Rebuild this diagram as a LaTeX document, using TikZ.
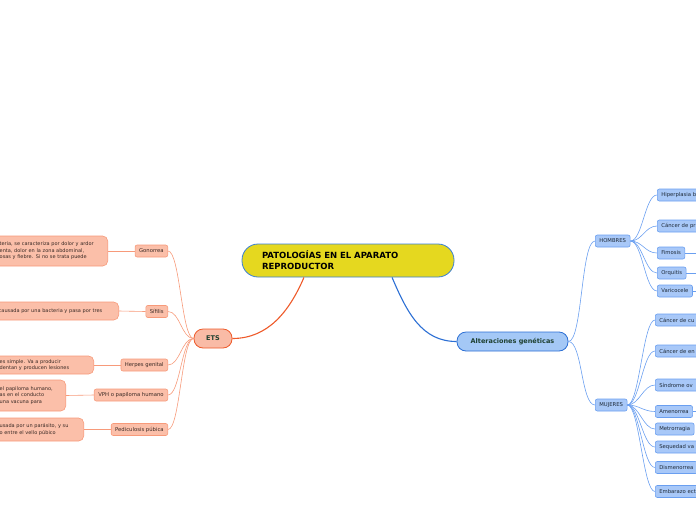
\documentclass[tikz,border=0pt]{standalone}
\usepackage{fontspec}
\setmainfont{DejaVu Sans}

\definecolor{rootfill}{HTML}{E5D81F}
\definecolor{rootline}{HTML}{3A7FD5}
\definecolor{etsfill}{HTML}{F9BBA6}
\definecolor{etsline}{HTML}{EE5A2A}
\definecolor{salfill}{HTML}{FBBFA9}
\definecolor{salline}{HTML}{F79A7A}
\definecolor{genfill}{HTML}{A4C8F6}
\definecolor{genline}{HTML}{2C6FD4}
\definecolor{bluefill}{HTML}{A8C8F8}
\definecolor{blueline}{HTML}{6A9FF0}
\definecolor{darkgreen}{HTML}{1E4030}
\definecolor{leaftext}{HTML}{3A2A25}
\definecolor{bluetext}{HTML}{1E2A38}

\tikzset{
  topic/.style={draw=rootline, fill=rootfill, line width=0.8pt, rounded corners=16pt,
    minimum width=212pt, minimum height=33pt, inner xsep=20pt, text width=172pt,
    align=left, font=\fontsize{8.5}{11}\selectfont\bfseries},
  etsmain/.style={draw=etsline, fill=etsfill, line width=0.8pt, rounded corners=9pt,
    minimum width=38pt, minimum height=19pt, text=darkgreen,
    font=\fontsize{6.5}{8}\selectfont\bfseries},
  genmain/.style={draw=genline, fill=genfill, line width=0.8pt, rounded corners=9pt,
    minimum width=111pt, minimum height=19pt, text=darkgreen,
    font=\fontsize{6.5}{8}\selectfont\bfseries},
  etsleaf/.style={draw=salline, fill=salfill, rounded corners=2pt, line width=0.6pt,
    minimum height=12pt, inner xsep=4pt, inner ysep=0pt, anchor=east, text=leaftext,
    font=\fontsize{5.3}{6}\selectfont},
  etsnote/.style={draw=salline, fill=salfill, rounded corners=5pt, line width=0.6pt,
    inner xsep=5pt, inner ysep=0pt, anchor=east, align=left, text=leaftext,
    font=\fontsize{5}{6.5}\selectfont},
  genleaf/.style={draw=blueline, fill=bluefill, rounded corners=2pt, line width=0.6pt,
    minimum height=12pt, inner xsep=4pt, inner ysep=0pt, anchor=west, text=bluetext,
    font=\fontsize{5.3}{6}\selectfont},
  etslink/.style={draw=salline, line width=0.6pt},
  genlink/.style={draw=blueline, line width=0.6pt},
}

\begin{document}
\begin{tikzpicture}[x=1pt,y=-1pt]
\useasboundingbox (0,0) rectangle (696,520);
\clip (0,0) rectangle (696,520);

% main topics
\node[topic] (root) at (348,260.5) {PATOLOGÍAS EN EL APARATO\\REPRODUCTOR};
\node[etsmain] (ets) at (213,338.5) {ETS};
\node[genmain] (gen) at (512.5,341.5) {Alteraciones genéticas};

\draw[etsline, line width=1.1pt] (root.201) .. controls +(-15,35) and +(35,0) .. (ets.east);
\draw[genline, line width=1.1pt] (root.339) .. controls +(15,35) and +(-35,0) .. (gen.west);

% ETS
\node[etsleaf] (gono) at (168,251) {Gonorrea};
\node[etsleaf] (sifi) at (168,311.5) {Sífilis};
\node[etsleaf] (herp) at (168,365) {Herpes genital};
\node[etsleaf] (vph) at (168,395) {VPH o papiloma humano};
\node[etsleaf] (pedi) at (168,429.5) {Pediculosis púbica};

\node[etsnote, text width=103pt, minimum height=30pt] (gononote) at (108,251)
  {teria, se caracteriza por dolor y ardor\\enta, dolor en la zona abdominal,\\osas y fiebre. Si no se trata puede};
\node[etsnote, text width=115pt, minimum height=18pt] (sifinote) at (119,311)
  {causada por una bacteria y pasa por tres};
\node[etsnote, text width=89pt, minimum height=18pt] (herpnote) at (94,365)
  {es simple. Va a producir\\dentan y producen lesiones};
\node[etsnote, text width=61pt, minimum height=31pt] (vphnote) at (66,395.5)
  {el papiloma humano,\\as en el conducto\\una vacuna para};
\node[etsnote, text width=79pt, minimum height=23pt] (pedinote) at (84,429.5)
  {usada por un parásito, y su\\o entre el vello púbico};

\foreach \leaf in {gono,sifi,herp,vph,pedi}
  \draw[etslink] (ets.west) .. controls +(-12,0) and +(12,0) .. (\leaf.east);
\foreach \leaf in {gono,sifi,herp,vph,pedi}
  \draw[etslink] (\leaf.west) -- (\leaf note.east);

% Alteraciones geneticas
\node[genleaf] (homb) at (595,241) {HOMBRES};
\node[genleaf] (muje) at (595,405) {MUJERES};
\draw[genlink] (gen.east) .. controls +(14,0) and +(-14,0) .. (homb.west);
\draw[genlink] (gen.east) .. controls +(14,0) and +(-14,0) .. (muje.west);

\node[genleaf, text width=60pt] (hipe) at (657,195) {Hiperplasia b};
\node[genleaf, text width=60pt] (cpro) at (657,226) {Cáncer de pr};
\node[genleaf] (fimo) at (657,253) {Fimosis};
\node[genleaf] (orqu) at (657,273) {Orquitis};
\node[genleaf] (vari) at (657,291) {Varicocele};

\node[genleaf, text width=60pt] (ccue) at (655,320) {Cáncer de cu};
\node[genleaf, text width=60pt] (cend) at (655,351) {Cáncer de en};
\node[genleaf, text width=60pt] (sind) at (655,385) {Síndrome ov};
\node[genleaf] (amen) at (655,411.5) {Amenorrea};
\node[genleaf] (metr) at (655,429) {Metrorragia};
\node[genleaf, text width=60pt] (sequ) at (655,447) {Sequedad va};
\node[genleaf] (dism) at (655,467.5) {Dismenorrea};
\node[genleaf, text width=60pt] (emba) at (655,491.5) {Embarazo ect};

\foreach \leaf in {hipe,cpro,fimo,orqu,vari}
  \draw[genlink] (homb.east) .. controls +(12,0) and +(-12,0) .. (\leaf.west);
\foreach \leaf in {ccue,cend,sind,amen,metr,sequ,dism,emba}
  \draw[genlink] (muje.east) .. controls +(12,0) and +(-12,0) .. (\leaf.west);

\coordinate (fimoR) at (700,253);
\coordinate (orquR) at (700,273);
\coordinate (variR) at (700,291);
\coordinate (amenR) at (700,411.5);
\draw[genlink] (fimo.east) -- (fimoR);
\draw[genlink] (orqu.east) -- (orquR);
\draw[genlink] (vari.east) -- (variR);
\draw[genlink] (amen.east) -- (amenR);
\end{tikzpicture}
\end{document}
